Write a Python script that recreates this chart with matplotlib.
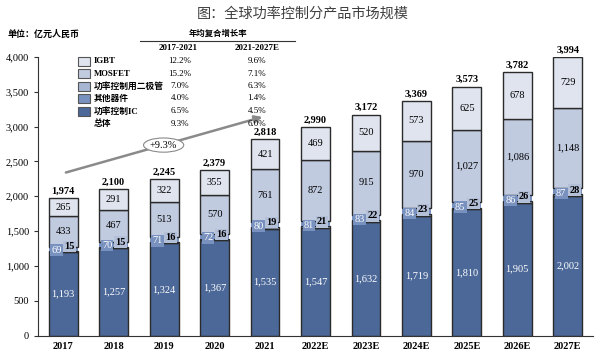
import numpy as np
import matplotlib.pyplot as plt
from matplotlib.patches import Rectangle
from matplotlib.ticker import FuncFormatter

plt.rcParams['font.family'] = ['Liberation Serif', 'Noto Sans CJK SC']

# 数据 (亿元人民币)
years = ['2017', '2018', '2019', '2020', '2021', '2022E', '2023E', '2024E', '2025E', '2026E', '2027E']
ic = [1193, 1257, 1324, 1367, 1535, 1547, 1632, 1719, 1810, 1905, 2002]
other = [69, 70, 71, 72, 80, 81, 83, 84, 85, 86, 87]
diode = [15, 15, 16, 16, 19, 21, 22, 23, 25, 26, 28]
mosfet = [433, 467, 513, 570, 761, 872, 915, 970, 1027, 1086, 1148]
igbt = [265, 291, 322, 355, 421, 469, 520, 573, 625, 678, 729]
total = [1974, 2100, 2245, 2379, 2818, 2990, 3172, 3369, 3573, 3782, 3994]

legend_names = ['IGBT', 'MOSFET', '功率控制用二极管', '其他器件', '功率控制IC', '总体']
cagr_17_21 = ['12.2%', '15.2%', '7.0%', '4.0%', '6.5%', '9.3%']
cagr_21_27 = ['9.6%', '7.1%', '6.3%', '1.4%', '4.5%', '6.0%']
overall_cagr = '+9.3%'

c_ic = '#4b6898'
c_other = '#7891bf'
c_diode = '#a7b6d3'
c_mosfet = '#c1cbe0'
c_igbt = '#dfe4ef'
edge = '#2b2b2b'

fig = plt.figure(figsize=(6.13, 3.57), dpi=100)
ax = fig.add_axes([38/613, 21.5/357, 555/613, 278.5/357])

x = np.arange(len(years))
w = 0.57
ic_a, other_a, diode_a, mos_a = map(np.array, (ic, other, diode, mosfet))
kw = dict(width=w, edgecolor=edge, linewidth=1.0)
ax.bar(x, ic, color=c_ic, **kw)
ax.bar(x, diode, bottom=ic_a, color=c_diode, **kw)
ax.bar(x, other, bottom=ic_a + diode_a, color=c_other, width=w, edgecolor='none')
ax.bar(x, mosfet, bottom=ic_a + diode_a + other_a, color=c_mosfet, width=w, edgecolor=edge, linewidth=1.0)
ax.bar(x, igbt, bottom=ic_a + diode_a + other_a + mos_a, color=c_igbt, **kw)

fs = 7.5
for i in range(len(years)):
    b = ic[i] + diode[i] + other[i]
    ax.text(x[i], ic[i] / 2, f'{ic[i]:,}', ha='center', va='center', color='white', fontsize=fs)
    ax.text(x[i], b + mosfet[i] / 2, f'{mosfet[i]:,}', ha='center', va='center', fontsize=fs)
    ax.text(x[i], b + mosfet[i] + igbt[i] / 2, f'{igbt[i]:,}', ha='center', va='center', fontsize=fs)
    ax.text(x[i] - 0.13, ic[i] + 35, f'{other[i]}', ha='center', va='center', color='white',
            fontsize=fs, bbox=dict(boxstyle='square,pad=0.12', fc=c_other, ec='none'))
    ax.text(x[i] + 0.13, ic[i] + 85, f'{diode[i]}', ha='center', va='center', fontweight='bold',
            fontsize=fs, bbox=dict(boxstyle='square,pad=0.12', fc='#b3c0d8', ec='none'))
    ax.text(x[i], total[i] + 35, f'{total[i]:,}', ha='center', va='bottom', fontweight='bold', fontsize=fs)

ax.set_xlim(-0.5, 10.5)
ax.set_ylim(0, 4000)
ax.set_yticks(np.arange(0, 4001, 500))
ax.yaxis.set_major_formatter(FuncFormatter(lambda v, p: f'{int(v):,}'))
ax.set_xticks(x)
ax.set_xticklabels(years, fontweight='bold')
ax.tick_params(axis='x', length=0, labelsize=7.5, pad=5)
ax.tick_params(axis='y', length=3, labelsize=7.5, color='#333333')
for s in ['top', 'right']:
    ax.spines[s].set_visible(False)
for s in ['left', 'bottom']:
    ax.spines[s].set_color('#333333')

# 总体增长箭头
ax.annotate('', xy=(4.0, 3150), xytext=(0, 2330),
            arrowprops=dict(arrowstyle='-|>', color='#8a8a8a', lw=1.8, mutation_scale=11))
ax.text(1.99, 2735, overall_cagr, ha='center', va='center', fontsize=7.5,
        bbox=dict(boxstyle='ellipse,pad=0.05', fc='white', ec='#8a8a8a', lw=0.8))

# 文字层 (像素坐标)
ov = fig.add_axes([0, 0, 1, 1], facecolor='none')
ov.set_xlim(0, 613)
ov.set_ylim(357, 0)
ov.axis('off')

ov.text(303, 14, '图：全球功率控制分产品市场规模', ha='center', va='center', fontsize=10.2, color='#404040')
ov.text(8, 34, '单位：亿元人民币', ha='left', va='center', fontsize=6.5, fontweight='bold', fontstyle='italic')
ov.text(218, 34, '年均复合增长率', ha='center', va='center', fontsize=6, fontweight='bold')
ov.plot([140, 295], [41, 41], color='#333333', lw=0.8)
ov.text(178, 48, '2017-2021', ha='center', va='center', fontsize=6.5, fontweight='bold')
ov.text(257, 48, '2021-2027E', ha='center', va='center', fontsize=6.5, fontweight='bold')

box_colors = [c_igbt, c_mosfet, c_diode, c_other, c_ic]
rows_y = [61, 73.5, 86, 98.5, 111, 123.5]
for k, name in enumerate(legend_names):
    y = rows_y[k]
    if k < len(box_colors):
        ov.add_patch(Rectangle((78, y - 4.5), 12, 9, fc=box_colors[k], ec='#555555', lw=0.8))
    ov.text(94, y, name, ha='left', va='center', fontsize=6.3, fontweight='bold')
    ov.text(180, y, cagr_17_21[k], ha='center', va='center', fontsize=6.5)
    ov.text(257, y, cagr_21_27[k], ha='center', va='center', fontsize=6.5)

plt.savefig('out.png', dpi=100)
